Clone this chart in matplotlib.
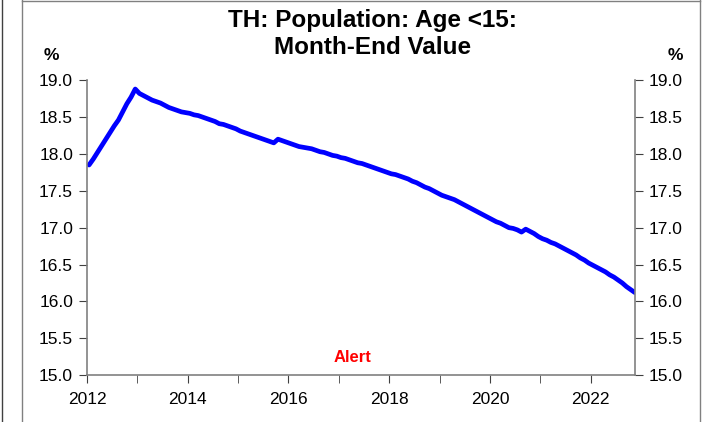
import matplotlib.pyplot as plt
from matplotlib.lines import Line2D
from matplotlib.ticker import MultipleLocator

plt.rcParams['font.family'] = ['Liberation Sans', 'DejaVu Sans']

# monthly values, Jan 2012 .. Nov 2022 (%)
start_year = 2012
v2012 = [17.85, 17.93, 18.02, 18.11, 18.20, 18.29, 18.38, 18.46, 18.57, 18.68, 18.77, 18.88]
v2013 = [18.82, 18.79, 18.76, 18.73, 18.71, 18.69, 18.66, 18.63, 18.61, 18.59, 18.57, 18.56]
v2014 = [18.55, 18.53, 18.52, 18.50, 18.48, 18.46, 18.44, 18.41, 18.40, 18.38, 18.36, 18.34]
v2015 = [18.31, 18.29, 18.27, 18.25, 18.23, 18.21, 18.19, 18.17, 18.15, 18.20, 18.18, 18.16]
v2016 = [18.14, 18.12, 18.10, 18.09, 18.08, 18.07, 18.05, 18.03, 18.02, 18.00, 17.98, 17.97]
v2017 = [17.95, 17.94, 17.92, 17.90, 17.88, 17.87, 17.85, 17.83, 17.81, 17.79, 17.77, 17.75]
v2018 = [17.73, 17.72, 17.70, 17.68, 17.66, 17.63, 17.61, 17.58, 17.55, 17.53, 17.50, 17.47]
v2019 = [17.44, 17.42, 17.40, 17.38, 17.35, 17.32, 17.29, 17.26, 17.23, 17.20, 17.17, 17.14]
v2020 = [17.11, 17.08, 17.06, 17.03, 17.00, 16.99, 16.97, 16.94, 16.98, 16.95, 16.92, 16.88]
v2021 = [16.85, 16.83, 16.80, 16.78, 16.75, 16.72, 16.69, 16.66, 16.63, 16.59, 16.56, 16.52]
v2022 = [16.49, 16.46, 16.43, 16.40, 16.36, 16.33, 16.29, 16.25, 16.20, 16.16, 16.12]

values = v2012 + v2013 + v2014 + v2015 + v2016 + v2017 + v2018 + v2019 + v2020 + v2021 + v2022
# plotted mid-month
dates = [start_year + (i + 0.5) / 12 for i in range(len(values))]

x_ticks = [2012, 2014, 2016, 2018, 2020, 2022]
y_ticks = [15.0, 15.5, 16.0, 16.5, 17.0, 17.5, 18.0, 18.5, 19.0]
title = "TH: Population: Age <15:\nMonth-End Value"

fig = plt.figure(figsize=(7.07, 4.22), dpi=100)
ax = fig.add_axes([0.123, 0.111, 0.775, 0.699])

ax.plot(dates, values, color='#0000ff', lw=3.4, solid_capstyle='round')

ax.set_xlim(2012, dates[-1])
ax.set_ylim(15, 19)
ax.set_xticks(x_ticks)
ax.xaxis.set_minor_locator(MultipleLocator(1))
ax.set_yticks(y_ticks)
ax.set_yticklabels(['%.1f' % t for t in y_ticks])

gray = '#808080'
for s in ['left', 'right', 'bottom']:
    ax.spines[s].set_color(gray)
    ax.spines[s].set_linewidth(1.2)
ax.spines['top'].set_visible(False)

ax.tick_params(axis='both', which='both', direction='out', color='#404040',
               labelsize=12.5, labelcolor='black')
ax.tick_params(axis='y', which='major', left=True, right=True,
               labelleft=True, labelright=True, length=6, pad=4)
ax.tick_params(axis='x', which='major', length=6, pad=6)
ax.tick_params(axis='x', which='minor', length=6)

fig.text(0.527, 0.920, title, ha='center', va='center', fontsize=17.5,
         fontweight='bold', linespacing=1.2)
fig.text(0.072, 0.868, '%', ha='center', va='center', fontsize=12.5, fontweight='bold')
fig.text(0.955, 0.868, '%', ha='center', va='center', fontsize=12.5, fontweight='bold')
fig.text(0.498, 0.154, 'Alert', ha='center', va='center', fontsize=12,
         fontweight='bold', color='#ff0000')

# panel borders
fig.add_artist(Line2D([0.003, 0.003], [0, 1], color='#404040', lw=1))
fig.add_artist(Line2D([0.031, 0.031], [0, 1], color=gray, lw=1))
fig.add_artist(Line2D([0.990, 0.990], [0, 1], color=gray, lw=1))
fig.add_artist(Line2D([0.031, 0.990], [0.998, 0.998], color=gray, lw=1))

fig.savefig('out.png', dpi=100)
